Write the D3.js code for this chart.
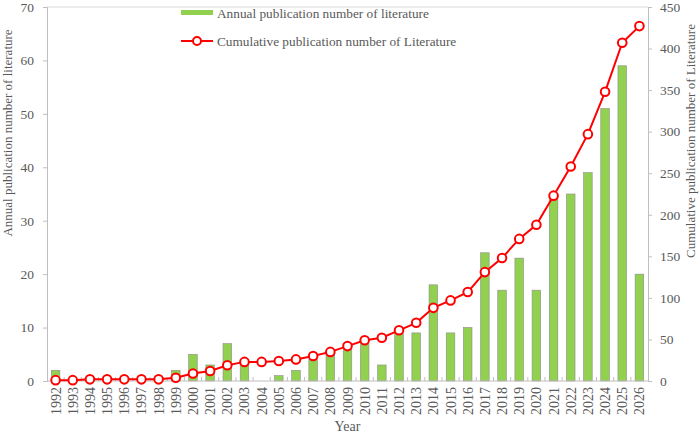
<!DOCTYPE html>
<html>
<head>
<meta charset="utf-8">
<script src="https://cdn.jsdelivr.net/npm/d3@7"></script>
<style>
  body { margin: 0; background: #fff; }
  svg text { font-family: "Liberation Serif", "Times New Roman", serif; fill: #595959; }
</style>
</head>
<body>
<div id="chart"></div>
<script>
// Data
const years = d3.range(1992, 2027).map(String);
const annual = [2, 0, 0, 0, 0, 0, 0, 2, 5, 3, 7, 4, 0, 1, 2, 4, 5, 6, 7, 3,
                9, 9, 18, 9, 10, 24, 17, 23, 17, 35, 35, 39, 51, 59, 20];
const cumulative = [1, 1, 2, 2, 2, 2, 2, 4, 9, 12, 19, 23, 23, 24, 26, 30, 35, 42, 49, 52,
                    61, 70, 88, 97, 107, 131, 148, 171, 188, 223, 258, 297, 348, 407, 427];
const leftTicks = [0, 10, 20, 30, 40, 50, 60, 70];
const rightTicks = [0, 50, 100, 150, 200, 250, 300, 350, 400, 450];

const width = 700, height = 434;
const margin = { top: 7, right: 52, bottom: 53, left: 47 };
const innerW = width - margin.left - margin.right;
const innerH = height - margin.top - margin.bottom;

const svg = d3.select('#chart').append('svg')
    .attr('width', width)
    .attr('height', height);

const g = svg.append('g').attr('transform', `translate(${margin.left},${margin.top})`);

const x = d3.scaleBand().domain(years).range([0, innerW]).paddingInner(0.5).paddingOuter(0.25);
const yL = d3.scaleLinear().domain([0, 70]).range([innerH, 0]);
const yR = d3.scaleLinear().domain([0, 450]).range([innerH, 0]);

const axisColor = '#bfbfbf';

// top border
g.append('line')
    .attr('x1', 0).attr('x2', innerW).attr('y1', 0).attr('y2', 0)
    .attr('stroke', '#d9d9d9');

// bars
g.append('g').selectAll('rect')
    .data(annual)
    .join('rect')
    .attr('x', (d, i) => x(years[i]))
    .attr('y', d => yL(d))
    .attr('width', x.bandwidth())
    .attr('height', d => innerH - yL(d))
    .attr('fill', '#92d050')
    .attr('stroke', '#8c8c8c')
    .attr('stroke-width', 0.6);

// left axis
const left = g.append('g')
    .call(d3.axisLeft(yL).tickValues(leftTicks).tickSize(4).tickPadding(9));
left.select('.domain').attr('stroke', axisColor);
left.selectAll('.tick line').attr('stroke', axisColor);
left.selectAll('text').style('font-size', '13.5px').attr('font-family', null);

// right axis
const right = g.append('g')
    .attr('transform', `translate(${innerW},0)`)
    .call(d3.axisRight(yR).tickValues(rightTicks).tickSize(4).tickPadding(8));
right.select('.domain').attr('stroke', axisColor);
right.selectAll('.tick line').attr('stroke', axisColor);
right.selectAll('text').style('font-size', '13.5px').attr('font-family', null);

// bottom axis: ticks at band boundaries pointing inward
const bottom = g.append('g').attr('transform', `translate(0,${innerH})`);
bottom.append('line')
    .attr('x1', 0).attr('x2', innerW)
    .attr('stroke', axisColor);
const step = x.step();
bottom.selectAll('.btick')
    .data(d3.range(1, years.length))
    .join('line')
    .attr('class', 'btick')
    .attr('x1', i => x(years[i]) - step * 0.25)
    .attr('x2', i => x(years[i]) - step * 0.25)
    .attr('y1', 0).attr('y2', -4)
    .attr('stroke', axisColor);
bottom.selectAll('.ylabel')
    .data(years)
    .join('text')
    .attr('class', 'ylabel')
    .attr('transform', d => `translate(${x(d) + x.bandwidth() / 2 + 5},6) rotate(-90)`)
    .attr('text-anchor', 'end')
    .style('font-size', '14px')
    .text(d => d);

// cumulative line
const line = d3.line()
    .x((d, i) => x(years[i]) + x.bandwidth() / 2)
    .y(d => yR(d));
g.append('path')
    .datum(cumulative)
    .attr('d', line)
    .attr('fill', 'none')
    .attr('stroke', '#ff0000')
    .attr('stroke-width', 2);
g.append('g').selectAll('circle')
    .data(cumulative)
    .join('circle')
    .attr('cx', (d, i) => x(years[i]) + x.bandwidth() / 2)
    .attr('cy', d => yR(d))
    .attr('r', 4.3)
    .attr('fill', '#fff')
    .attr('stroke', '#ff0000')
    .attr('stroke-width', 2);

// axis titles
svg.append('text')
    .attr('transform', 'translate(12,133) rotate(-90)')
    .attr('text-anchor', 'middle')
    .style('font-size', '13px')
    .text('Annual publication number of literature');
svg.append('text')
    .attr('transform', 'translate(695,141) rotate(-90)')
    .attr('text-anchor', 'middle')
    .style('font-size', '13px')
    .text('Cumulative publication  number of Literature');
svg.append('text')
    .attr('x', margin.left + innerW / 2)
    .attr('y', 431)
    .attr('text-anchor', 'middle')
    .style('font-size', '14px')
    .text('Year');

// legend
const legend = svg.append('g');
legend.append('rect')
    .attr('x', 181).attr('y', 10).attr('width', 32).attr('height', 5)
    .attr('fill', '#92d050');
legend.append('text')
    .attr('x', 217).attr('y', 18)
    .style('font-size', '13.3px')
    .text('Annual publication number of literature');
legend.append('line')
    .attr('x1', 181).attr('x2', 213).attr('y1', 41).attr('y2', 41)
    .attr('stroke', '#ff0000').attr('stroke-width', 2);
legend.append('circle')
    .attr('cx', 197).attr('cy', 41).attr('r', 4)
    .attr('fill', '#fff').attr('stroke', '#ff0000').attr('stroke-width', 2);
legend.append('text')
    .attr('x', 217).attr('y', 46)
    .style('font-size', '13.3px')
    .text('Cumulative publication number of Literature');
</script>
</body>
</html>
